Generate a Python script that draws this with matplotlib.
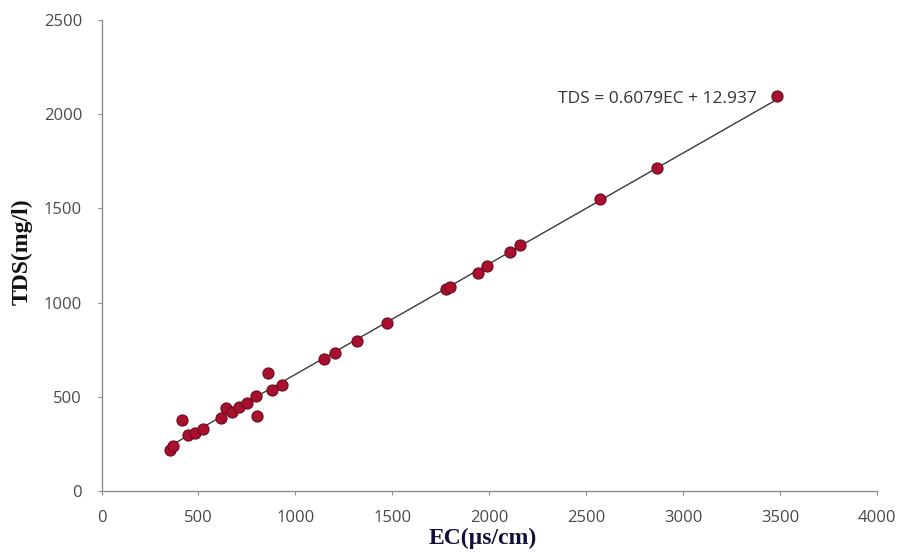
import matplotlib
matplotlib.use("Agg")
import matplotlib.pyplot as plt
import numpy as np

# Data
ec = [353, 370, 413, 448, 482, 525, 615, 642, 671, 711, 749, 797, 800, 860, 878,
      929, 1147, 1204, 1316, 1471, 1775, 1795, 1943, 1990, 2107, 2158, 2571, 2866, 3482]
tds = [218, 239, 377, 297, 306, 327, 386, 439, 421, 447, 466, 504, 398, 625, 536,
       563, 699, 734, 796, 892, 1070, 1082, 1159, 1194, 1270, 1306, 1548, 1713, 2097]

equation_label = "TDS = 0.6079EC + 12.937"

x_ticks = [0, 500, 1000, 1500, 2000, 2500, 3000, 3500, 4000]
y_ticks = [0, 500, 1000, 1500, 2000, 2500]

fig = plt.figure(figsize=(9.05, 5.53), dpi=100)
ax = fig.add_axes([0.1122, 0.1121, 0.857, 0.8517])

# linear trend line fitted to the points
m, b = np.polyfit(ec, tds, 1)
xl = np.array([min(ec), max(ec)])
ax.plot(xl, m * xl + b, color="#3a3a3a", lw=1.0, zorder=2)

ax.plot(ec, tds, linestyle="none", marker="o", ms=8, mfc="#A8102E",
        mec="#6E0A1F", mew=0.8, zorder=3)

ax.set_xlim(0, 4000)
ax.set_ylim(0, 2500)
ax.set_xticks(x_ticks)
ax.set_yticks(y_ticks)

for s in ["top", "right"]:
    ax.spines[s].set_visible(False)
for s in ["left", "bottom"]:
    ax.spines[s].set_color("#8c8c8c")
    ax.spines[s].set_linewidth(1.0)

ax.tick_params(axis="both", direction="out", length=3, width=0.8, color="#8c8c8c",
               labelsize=12, labelcolor="#4a4a4a")
for lab in ax.get_xticklabels() + ax.get_yticklabels():
    lab.set_family("Open Sans")
ax.tick_params(axis="x", pad=11)
ax.tick_params(axis="y", pad=11)

fig.text(483 / 905, 1 - 538 / 553, "EC(µs/cm)", ha="center", va="center",
         fontsize=17, fontweight="bold", family="Liberation Serif", color="#10103a")
fig.text(22 / 905, 1 - 252 / 553, "TDS(mg/l)", ha="center", va="center",
         rotation=90, fontsize=17, fontweight="bold", family="Liberation Serif",
         color="#111111")

ax.text(3381, 2081, equation_label, ha="right", va="center", fontsize=12.5,
        family="Open Sans", color="#333333")

fig.savefig("out.png", dpi=100, facecolor="white")
